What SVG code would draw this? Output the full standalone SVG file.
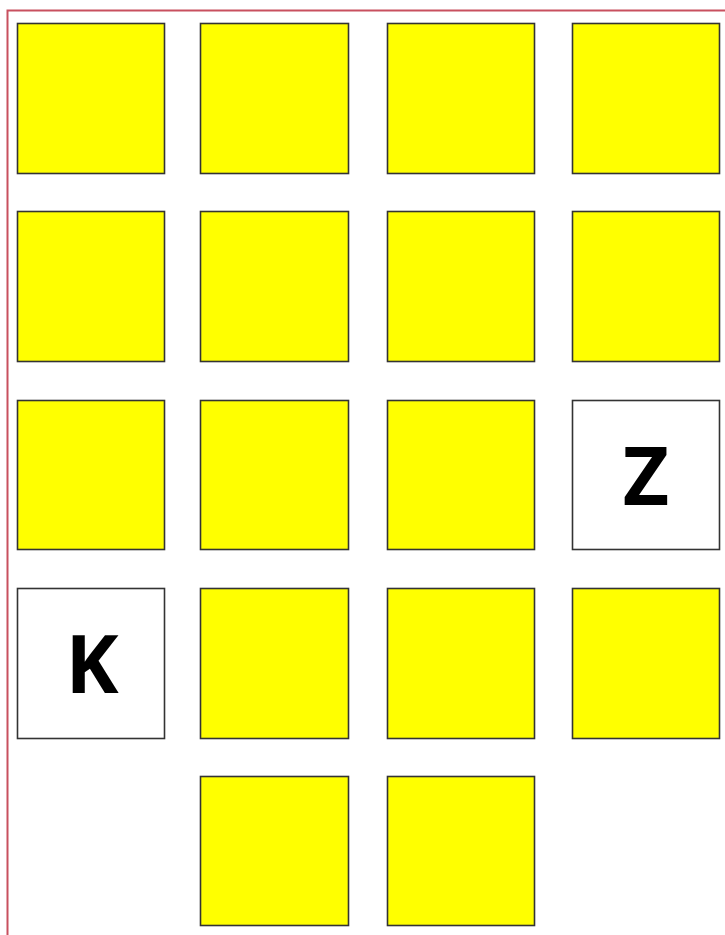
<svg xmlns="http://www.w3.org/2000/svg" width="725" height="935" viewBox="0 0 725 935">
<style>
.b{fill:none;stroke:#c8505f;stroke-width:2}
.y{fill:#ffff00;stroke:#333;stroke-width:1.6}
.w{fill:#fff;stroke:#333;stroke-width:1.6}
.t{font-family:"Noto Sans","Open Sans","DejaVu Sans",sans-serif;font-weight:700;font-size:80px;fill:#000;text-anchor:middle}
</style>
<rect width="725" height="935" fill="#fff"/>
<path class="b" d="M7.5 940 V10.5 H730"/>
<g id="n1"><rect class="y" x="17.5" y="23.5" width="147" height="150"/></g>
<g id="n2"><rect class="y" x="200.5" y="23.5" width="148" height="150"/></g>
<g id="n3"><rect class="y" x="387.5" y="23.5" width="147" height="150"/></g>
<g id="n4"><rect class="y" x="572.5" y="23.5" width="147" height="150"/></g>
<g id="n5"><rect class="y" x="17.5" y="211.5" width="147" height="150"/></g>
<g id="n6"><rect class="y" x="200.5" y="211.5" width="148" height="150"/></g>
<g id="n7"><rect class="y" x="387.5" y="211.5" width="147" height="150"/></g>
<g id="n8"><rect class="y" x="572.5" y="211.5" width="147" height="150"/></g>
<g id="n9"><rect class="y" x="17.5" y="400.5" width="147" height="149"/></g>
<g id="n10"><rect class="y" x="200.5" y="400.5" width="148" height="149"/></g>
<g id="n11"><rect class="y" x="387.5" y="400.5" width="147" height="149"/></g>
<g id="n12"><rect class="w" x="572.5" y="400.5" width="147" height="149"/><text class="t" x="646" y="505">Z</text></g>
<g id="n13"><rect class="w" x="17.5" y="588.5" width="147" height="150"/><text class="t" x="92" y="693">K</text></g>
<g id="n14"><rect class="y" x="200.5" y="588.5" width="148" height="150"/></g>
<g id="n15"><rect class="y" x="387.5" y="588.5" width="147" height="150"/></g>
<g id="n16"><rect class="y" x="572.5" y="588.5" width="147" height="150"/></g>
<g id="n17"><rect class="y" x="200.5" y="776.5" width="148" height="149"/></g>
<g id="n18"><rect class="y" x="387.5" y="776.5" width="147" height="149"/></g>
<g id="connectors"></g>
</svg>
